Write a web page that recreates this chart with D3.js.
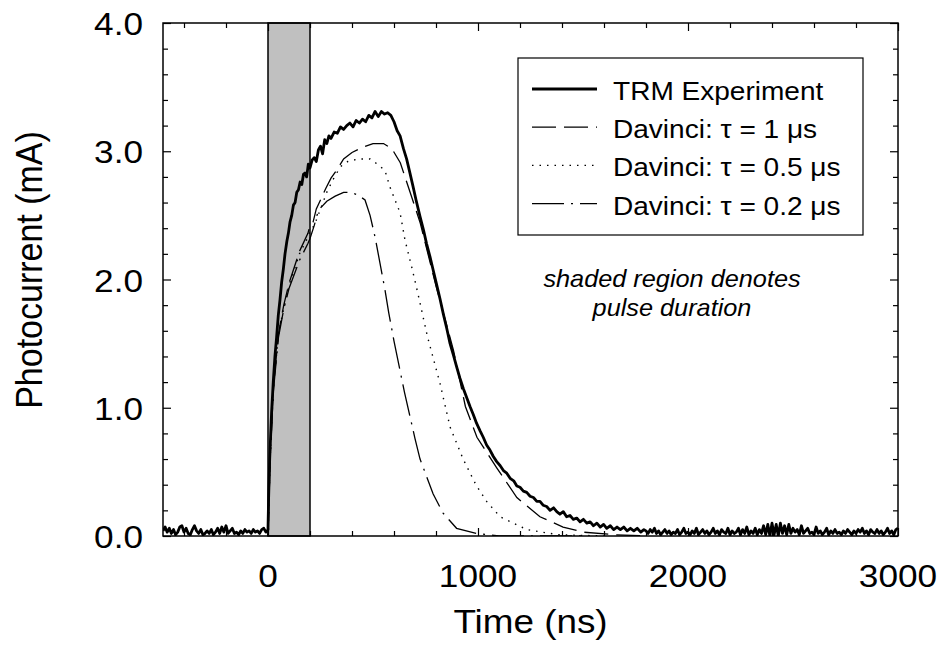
<!DOCTYPE html>
<html>
<head>
<meta charset="utf-8">
<script src="https://cdn.jsdelivr.net/npm/d3@7"></script>
<style>
  body { margin: 0; background: #fff; }
  svg { display: block; font-family: "Liberation Sans", Arial, sans-serif; }
</style>
</head>
<body>
<svg id="chart" width="940" height="654"></svg>
<script>
// measured traces, [time (ns), photocurrent (mA)]
const trmBefore = [[-500,0.04],[-490,0.07],[-480,0.03],[-470,0.06],[-460,0.02],[-450,0.05],[-440,0.01],[-430,0.03],[-420,0.07],[-410,0.08],
  [-400,0.03],[-390,0.06],[-380,0.02],[-370,0.01],[-360,0.05],[-350,0.08],[-340,0.04],[-330,0.02],[-320,0.05],[-310,0.01],
  [-300,0.02],[-290,0.04],[-280,0.02],[-270,0.05],[-260,0.01],[-250,0.03],[-240,0.06],[-230,0.02],[-220,0.07],[-210,0.03],
  [-200,0.08],[-190,0.02],[-180,0.04],[-170,0.06],[-160,0.02],[-150,0.03],[-140,0.01],[-130,0.04],[-120,0.02],[-110,0.05],
  [-100,0.03],[-90,0.04],[-80,0.02],[-70,0.05],[-60,0.03],[-50,0.04],[-40,0.02],[-30,0.05],[-20,0.06],[-10,0.03],[0,0.05]];

const trmPulse = [[3,0.3],[8,0.6],[17,0.96],[25,1.2],[33,1.4],[41,1.55],[49,1.72],[57,1.84],[65,1.98],[73,2.08],[81,2.2],[90,2.3],
  [97,2.36],[105,2.45],[113,2.5],[121,2.58],[129,2.6],[137,2.68],[145,2.7],[153,2.76],[161,2.74],[169,2.82],[176,2.83],[184,2.8],
  [192,2.9],[200,2.87],[210,2.93],[220,2.95],[230,2.92],[240,3.01],[250,3.04],[260,2.98],[270,3.09],[280,3.06],[290,3.12],[300,3.1],
  [315,3.15],[330,3.14],[345,3.19],[360,3.17],[375,3.2],[390,3.22],[405,3.19],[420,3.24],[435,3.22],[450,3.25],[465,3.23],[480,3.28],
  [495,3.26],[510,3.31],[525,3.27],[540,3.31],[555,3.29],[570,3.3],[585,3.28],[600,3.23],[615,3.16],[629,3.12],[645,3.02],[660,2.94],
  [676,2.83],[690,2.73],[705,2.62],[724,2.49],[740,2.39],[755,2.28],[771,2.18],[787,2.07],[803,1.96],[819,1.85],[835,1.73],[851,1.62],
  [867,1.5],[883,1.41],[898,1.32],[914,1.23],[930,1.15],[946,1.08],[962,1.01],[977,0.95],[993,0.88],[1010,0.82],[1025,0.77],[1041,0.71],
  [1057,0.67],[1073,0.62],[1089,0.58],[1105,0.55],[1121,0.51],[1137,0.49],[1153,0.45],[1170,0.43],[1185,0.39],[1200,0.38],[1216,0.35],
  [1232,0.34],[1248,0.31],[1264,0.3],[1280,0.27],[1295,0.27],[1310,0.24],[1327,0.23],[1343,0.2],[1360,0.22],[1375,0.19],[1390,0.17],
  [1406,0.19],[1422,0.15],[1438,0.16],[1454,0.13],[1470,0.14],[1486,0.11],[1502,0.13],[1518,0.1],[1534,0.11],[1550,0.08],[1566,0.1],
  [1582,0.07],[1598,0.09],[1613,0.06],[1630,0.08],[1646,0.05],[1662,0.07],[1678,0.05],[1694,0.07],[1710,0.04],[1726,0.06],[1742,0.04],
  [1758,0.06],[1775,0.03],[1790,0.05]];

const trmTail = [[1800,0.04],[1810,0.02],[1820,0.05],[1830,0.03],[1840,0.06],[1850,0.02],[1860,0.04],[1870,0.01],[1880,0.03],[1890,0.05],
  [1900,0.02],[1910,0.04],[1920,0.01],[1930,0.03],[1940,0.02],[1950,0.05],[1960,0.01],[1970,0.03],[1980,0.06],[1990,0.02],
  [2000,0.03],[2010,0.01],[2020,0.04],[2030,0.02],[2040,0.06],[2050,0.01],[2060,0.03],[2070,0.05],[2080,0.02],[2090,0.04],
  [2100,0.01],[2110,0.03],[2120,0.06],[2130,0.02],[2140,0.04],[2150,0.01],[2160,0.05],[2170,0.03],[2180,0.02],[2190,0.06],
  [2200,0.01],[2210,0.04],[2220,0.02],[2230,0.03],[2240,0.06],[2250,0.01],[2260,0.05],[2270,0.02],[2280,0.07],[2290,0.01],
  [2300,0.04],[2310,0.02],[2320,0.06],[2330,0.01],[2340,0.05],[2350,0.02],[2360,0.08],[2370,0.01],[2380,0.09],[2390,0.0],
  [2400,0.1],[2410,0.01],[2420,0.09],[2430,0.0],[2440,0.1],[2450,0.02],[2460,0.08],[2470,0.01],[2480,0.09],[2490,0.02],
  [2500,0.06],[2510,0.03],[2520,0.05],[2530,0.01],[2540,0.08],[2550,0.02],[2560,0.04],[2570,0.06],[2580,0.02],[2590,0.03],
  [2600,0.01],[2610,0.07],[2620,0.02],[2630,0.04],[2640,0.01],[2650,0.03],[2660,0.06],[2670,0.01],[2680,0.04],[2690,0.02],
  [2700,0.05],[2710,0.02],[2720,0.03],[2730,0.01],[2740,0.04],[2750,0.02],[2760,0.05],[2770,0.03],[2780,0.01],[2790,0.04],
  [2800,0.02],[2810,0.05],[2820,0.03],[2830,0.06],[2840,0.02],[2850,0.04],[2860,0.01],[2870,0.05],[2880,0.03],[2890,0.02],
  [2900,0.05],[2910,0.02],[2920,0.04],[2930,0.01],[2940,0.03],[2950,0.06],[2960,0.02],[2970,0.04],[2980,0.01],[2990,0.05],[3000,0.06]];

// Davinci simulations
const tau1 = [[0,0],[10,0.6],[25,1.15],[50,1.58],[75,1.8],[100,1.97],[150,2.22],[190,2.36],[200,2.42],[215,2.45],[230,2.55],
  [250,2.62],[275,2.71],[300,2.79],[330,2.86],[360,2.94],[400,2.99],[450,3.03],[500,3.06],[550,3.06],[590,3.02],[630,2.91],
  [685,2.64],[725,2.44],[800,1.95],[883,1.45],[940,1.01],[995,0.77],[1090,0.53],[1185,0.3],[1295,0.15],[1405,0.07],[1500,0.03],
  [1650,0.01],[1800,0]];
const tau05 = [[0,0],[10,0.6],[25,1.15],[50,1.57],[75,1.78],[100,1.95],[150,2.2],[190,2.33],[200,2.38],[220,2.42],[250,2.55],
  [280,2.68],[310,2.78],[345,2.88],[380,2.92],[430,2.94],[486,2.94],[520,2.9],[557,2.85],[581,2.72],[629,2.52],[652,2.31],
  [684,2.1],[714,1.89],[760,1.55],[819,1.19],[867,0.85],[929,0.6],[990,0.4],[1041,0.27],[1105,0.15],[1233,0.05],[1380,0.01],[1600,0]];
const tau02 = [[0,0],[10,0.58],[25,1.12],[50,1.55],[75,1.77],[100,1.93],[150,2.15],[190,2.28],[200,2.32],[220,2.42],[240,2.54],
  [280,2.61],[320,2.65],[360,2.68],[390,2.68],[428,2.66],[462,2.62],[486,2.5],[510,2.33],[533,2.13],[557,1.92],[575,1.74],
  [600,1.52],[650,1.12],[700,0.76],[724,0.6],[786,0.33],[833,0.18],[898,0.06],[994,0.02],[1100,0],[1500,0]];

const pulse = [0, 200];
const xMajor = [0, 1000, 2000, 3000];
const xMinor = [-400, -200, 200, 400, 600, 800, 1200, 1400, 1600, 1800, 2200, 2400, 2600, 2800];
const yMajor = [0, 1, 2, 3, 4];
const yMinor = [0.2, 0.4, 0.6, 0.8, 1.2, 1.4, 1.6, 1.8, 2.2, 2.4, 2.6, 2.8, 3.2, 3.4, 3.6, 3.8];

const seriesNames = ["TRM Experiment", "Davinci: \u03C4 = 1 \u03BCs", "Davinci: \u03C4 = 0.5 \u03BCs", "Davinci: \u03C4 = 0.2 \u03BCs"];

const STRETCH = 1.1;
const svg = d3.select("#chart");
const pLeft = 163, pRight = 898, pTop = 23, pBottom = 536;

const x = d3.scaleLinear().domain([-500, 3000]).range([pLeft, pRight]);
const y = d3.scaleLinear().domain([0, 4]).range([pBottom, pTop]);

// text is a bit wider than tall in the original
function label(g, px, py, str, size, anchor, opts) {
    opts = opts || {};
    let t = g.append("text")
        .attr("transform", `translate(${px},${py}) scale(${STRETCH},1)` + (opts.rotate ? ` rotate(${opts.rotate})` : ""))
        .attr("text-anchor", anchor)
        .attr("font-size", size)
        .attr("fill", "#000")
        .text(str);
    if (opts.italic) t.attr("font-style", "italic");
    return t;
}

svg.append("defs").append("clipPath").attr("id", "plotclip")
    .append("rect").attr("x", pLeft).attr("y", pTop).attr("width", pRight - pLeft).attr("height", pBottom - pTop);

// pulse duration
svg.append("rect")
    .attr("x", x(pulse[0])).attr("y", pTop)
    .attr("width", x(pulse[1]) - x(pulse[0])).attr("height", pBottom - pTop)
    .attr("fill", "#c0c0c0").attr("stroke", "#000").attr("stroke-width", 1.5);

const line = d3.line().x(d => x(d[0])).y(d => y(d[1]));
const plot = svg.append("g").attr("clip-path", "url(#plotclip)");

const styles = [
    { width: 2.8, dash: null },
    { width: 1.3, dash: "24,8" },
    { width: 1.4, dash: "1.5,6" },
    { width: 1.3, dash: "32,7,2,7" }
];
const sims = [tau1, tau05, tau02];

sims.forEach((s, i) => {
    plot.append("path").attr("d", line(s))
        .attr("fill", "none").attr("stroke", "#000")
        .attr("stroke-width", styles[i + 1].width)
        .attr("stroke-dasharray", styles[i + 1].dash);
});

const trm = trmBefore.concat(trmPulse, trmTail);
plot.append("path").attr("d", line(trm))
    .attr("fill", "none").attr("stroke", "#000")
    .attr("stroke-width", styles[0].width).attr("stroke-linejoin", "round");

// axes, ticks pointing inside on all four sides
function ticks(axisFn, scale, values, size, transform) {
    let g = svg.append("g").attr("transform", transform)
        .call(axisFn(scale).tickValues(values).tickSizeInner(-size).tickSizeOuter(0).tickFormat(""));
    g.select(".domain").remove();
    g.selectAll("line").attr("stroke-width", 1.2);
}
ticks(d3.axisBottom, x, xMajor, 8, `translate(0,${pBottom})`);
ticks(d3.axisBottom, x, xMinor, 5, `translate(0,${pBottom})`);
ticks(d3.axisTop, x, xMajor, 8, `translate(0,${pTop})`);
ticks(d3.axisTop, x, xMinor, 5, `translate(0,${pTop})`);
ticks(d3.axisLeft, y, yMajor, 8, `translate(${pLeft},0)`);
ticks(d3.axisLeft, y, yMinor, 5, `translate(${pLeft},0)`);
ticks(d3.axisRight, y, yMajor, 8, `translate(${pRight},0)`);
ticks(d3.axisRight, y, yMinor, 5, `translate(${pRight},0)`);

svg.append("rect").attr("x", pLeft).attr("y", pTop)
    .attr("width", pRight - pLeft).attr("height", pBottom - pTop)
    .attr("fill", "none").attr("stroke", "#000").attr("stroke-width", 1.5);

const labels = svg.append("g");
xMajor.forEach(v => label(labels, x(v), 587, String(v), 32, "middle"));
yMajor.forEach(v => label(labels, 143, y(v) + 12, d3.format(".1f")(v), 32, "end"));

label(labels, (pLeft + pRight) / 2, 633, "Time (ns)", 33.5, "middle");
label(labels, 42, 270, "Photocurrent (mA)", 34, "middle", { rotate: -90 });

// legend
const legend = svg.append("g");
legend.append("rect").attr("x", 518).attr("y", 58).attr("width", 345).attr("height", 177)
    .attr("fill", "#fff").attr("stroke", "#000").attr("stroke-width", 1.2);
seriesNames.forEach((name, i) => {
    let base = 100 + i * 38.2;
    legend.append("line")
        .attr("x1", 532).attr("x2", 597).attr("y1", base - 11).attr("y2", base - 11)
        .attr("stroke", "#000").attr("stroke-width", styles[i].width)
        .attr("stroke-dasharray", styles[i].dash);
    label(legend, 613, base, name, 25.5, "start");
});

label(labels, 672, 287, "shaded region denotes", 23, "middle", { italic: true });
label(labels, 672, 316, "pulse duration", 23, "middle", { italic: true });
</script>
</body>
</html>
